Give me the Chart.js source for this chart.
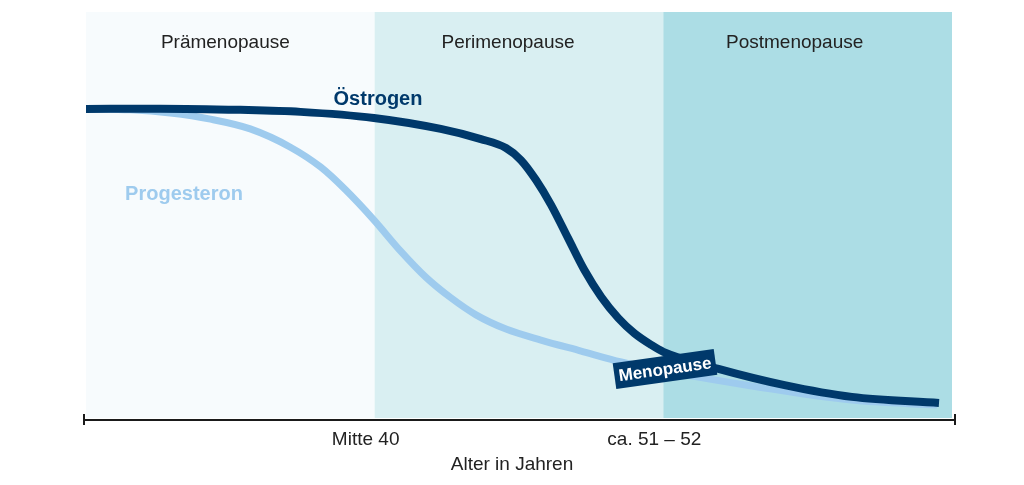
<!DOCTYPE html>
<html lang="de">
<head>
<meta charset="utf-8">
<script src="https://cdn.jsdelivr.net/npm/chart.js@4"></script>
<style>
  body { margin: 0; background: #fff; }
  #wrap { width: 1024px; height: 485px; }
</style>
</head>
<body>
<div id="wrap"><canvas id="hormonChart"></canvas></div>
<script>
// phases (x runs 0..3, one unit per phase)
const phaseLabels = ["Prämenopause", "Perimenopause", "Postmenopause"];
const phaseEdges = [0, 1, 2, 3];
const phaseColors = ["#f7fbfd", "#d9eff2", "#acdde5"];

// x-axis ticks
const tickValues = [1, 2];
const tickLabels = ["Mitte 40", "ca. 51 – 52"];
const axisTitle = "Alter in Jahren";

// hormone curves (relative level 0..100)
const oestrogenX = [0, 0.257, 0.535, 0.743, 0.997, 1.229, 1.368, 1.455, 1.507, 1.559, 1.611, 1.67, 1.726, 1.785, 1.844, 1.899, 1.958, 2.0, 2.191, 2.42, 2.653, 2.955];
const oestrogenY = [76.1, 76.2, 75.9, 75.4, 73.9, 71.2, 68.7, 66.5, 63.5, 58.6, 52.5, 44.3, 36.5, 29.8, 24.6, 20.9, 18.0, 16.3, 12.1, 8.1, 5.2, 3.7];
const progesteronX = [0, 0.153, 0.292, 0.431, 0.569, 0.708, 0.813, 0.899, 0.997, 1.09, 1.177, 1.264, 1.351, 1.455, 1.576, 1.715, 1.854, 2.063, 2.306, 2.653, 2.948];
const progesteronY = [76.1, 75.9, 75.1, 73.6, 71.2, 66.7, 61.8, 56.2, 48.8, 41.1, 34.7, 29.6, 25.4, 21.9, 19.2, 16.5, 13.8, 10.8, 7.9, 4.4, 3.2];

const NAVY = "#00396b";
const LIGHT = "#9ecbee";
const FONT = "'Liberation Sans', Arial, sans-serif";

function toPoints(xs, ys) {
    return xs.map((x, i) => ({ x: x, y: ys[i] }));
}

const backdropPlugin = {
    id: "backdrop",
    beforeDatasetsDraw(chart) {
        const ctx = chart.ctx;
        const xs = chart.scales.x;
        const area = chart.chartArea;
        const labelShift = [-5, -11, -13]; // phase titles sit a bit left of centre
        ctx.save();
        ctx.textAlign = "center";
        ctx.textBaseline = "middle";
        for (let i = 0; i < phaseLabels.length; i++) {
            const x0 = xs.getPixelForValue(phaseEdges[i]);
            const x1 = xs.getPixelForValue(phaseEdges[i + 1]);
            ctx.fillStyle = phaseColors[i];
            ctx.fillRect(x0, area.top, x1 - x0, area.bottom - area.top);
            ctx.fillStyle = "#222";
            ctx.font = "19px " + FONT;
            ctx.fillText(phaseLabels[i], (x0 + x1) / 2 + labelShift[i], area.top + 31);
        }

        // axis line with end ticks
        const yAxis = area.bottom + 2;
        const left = xs.getPixelForValue(0) - 2;
        const right = xs.getPixelForValue(3) + 3;
        ctx.strokeStyle = "#1a1a1a";
        ctx.lineWidth = 2;
        ctx.beginPath();
        ctx.moveTo(left, yAxis);
        ctx.lineTo(right, yAxis);
        ctx.moveTo(left, yAxis - 6);
        ctx.lineTo(left, yAxis + 5);
        ctx.moveTo(right, yAxis - 6);
        ctx.lineTo(right, yAxis + 5);
        ctx.stroke();

        ctx.fillStyle = "#222";
        ctx.font = "19px " + FONT;
        tickValues.forEach((v, i) => {
            ctx.fillText(tickLabels[i], xs.getPixelForValue(v) - 9, yAxis + 20);
        });
        ctx.fillText(axisTitle, 512, yAxis + 45);
        ctx.restore();
    },
    afterDatasetsDraw(chart) {
        const ctx = chart.ctx;
        ctx.save();
        ctx.font = "bold 20px " + FONT;
        ctx.textAlign = "center";
        ctx.textBaseline = "middle";
        ctx.fillStyle = NAVY;
        ctx.fillText("Östrogen", 378, 99);
        ctx.fillStyle = LIGHT;
        ctx.fillText("Progesteron", 184, 194);

        // Menopause tag
        ctx.translate(665, 369);
        ctx.rotate(-8 * Math.PI / 180);
        ctx.fillStyle = NAVY;
        ctx.fillRect(-51, -13, 102, 26);
        ctx.fillStyle = "#fff";
        ctx.font = "bold 17px " + FONT;
        ctx.fillText("Menopause", 0, 1);
        ctx.restore();
    }
};

new Chart(document.getElementById("hormonChart"), {
    type: "line",
    data: {
        datasets: [
            {
                label: "Östrogen",
                data: toPoints(oestrogenX, oestrogenY),
                borderColor: NAVY,
                borderWidth: 8,
                borderCapStyle: "butt",
                borderJoinStyle: "round",
                pointRadius: 0,
                cubicInterpolationMode: "monotone",
                fill: false
            },
            {
                label: "Progesteron",
                data: toPoints(progesteronX, progesteronY),
                borderColor: LIGHT,
                borderWidth: 7,
                borderCapStyle: "butt",
                borderJoinStyle: "round",
                pointRadius: 0,
                cubicInterpolationMode: "monotone",
                fill: false
            }
        ]
    },
    options: {
        responsive: true,
        maintainAspectRatio: false,
        animation: false,
        layout: { padding: { left: 86, right: 72, top: 12, bottom: 67 } },
        plugins: {
            legend: { display: false },
            tooltip: { enabled: false }
        },
        scales: {
            x: { type: "linear", min: 0, max: 3, display: false },
            y: { min: 0, max: 100, display: false }
        }
    },
    plugins: [backdropPlugin]
});
</script>
</body>
</html>
